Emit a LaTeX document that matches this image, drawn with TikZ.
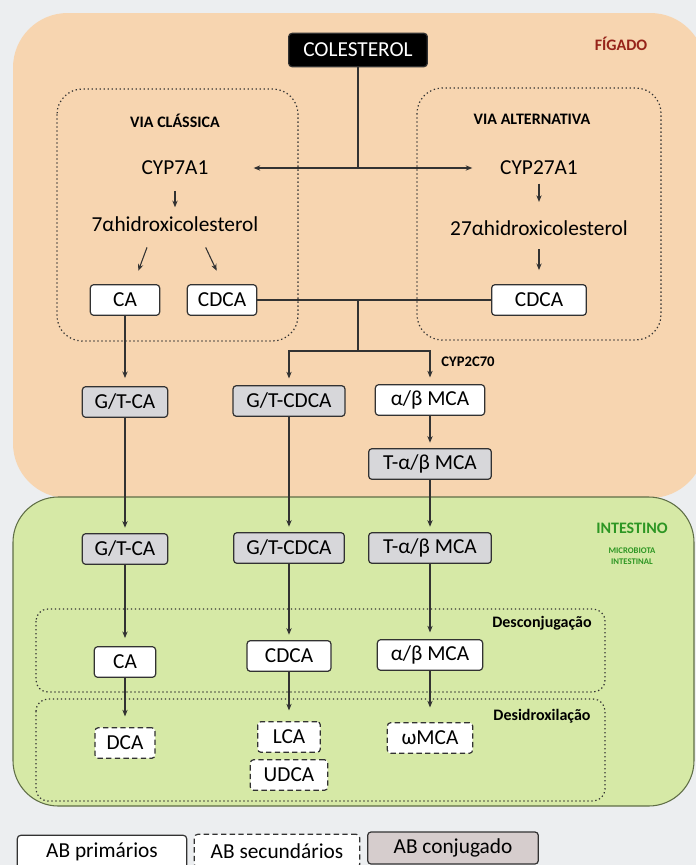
\documentclass[tikz,border=0pt]{standalone}
\usepackage{fontspec}
\setmainfont{Carlito}
\usetikzlibrary{arrows.meta}

\definecolor{fundo}{RGB}{236,238,240}
\definecolor{figado}{RGB}{247,213,176}
\definecolor{intestino}{RGB}{214,233,166}
\definecolor{bordaverde}{RGB}{95,110,70}
\definecolor{cinzaconj}{RGB}{215,215,218}
\definecolor{cinzaleg}{RGB}{214,205,205}
\definecolor{traco}{RGB}{50,50,50}
\definecolor{vinho}{RGB}{150,35,25}
\definecolor{verde}{RGB}{45,150,35}

\tikzset{
  ab/.style={draw=traco, line width=0.9pt, rounded corners=2.5pt, fill=white,
    minimum height=23pt, inner sep=0.75pt, font=\fontsize{16}{19}\selectfont},
  abconj/.style={ab, fill=cinzaconj},
  absec/.style={ab, dash pattern=on 4pt off 2.5pt},
  texto/.style={inner sep=0.75pt, font=\fontsize{16}{19}\selectfont},
  rotulo/.style={inner sep=0.75pt, font=\bfseries\fontsize{12}{14}\selectfont},
  pontilhado/.style={draw=traco, line width=0.9pt, dash pattern=on 1pt off 2pt},
  linha/.style={draw=traco, line width=0.8pt},
  seta/.style={linha, -{Stealth[length=5pt,width=4pt]}},
}

\begin{document}
\begin{tikzpicture}[x=0.75pt,y=0.75pt,yscale=-1,xscale=1]
\useasboundingbox (0,0) rectangle (696,865);
\fill[fundo] (0,0) rectangle (696,865);

%Shape: Figado
\fill[figado, rounded corners=41pt] (13,13) rectangle (705,498);
%Shape: Intestino
\filldraw[fill=intestino, draw=bordaverde, line width=0.8pt, rounded corners=34pt] (13,497) rectangle (694,806);

%Shape: vias e etapas
\draw[pontilhado, rounded corners=19pt] (57,89) rectangle (298,341);
\draw[pontilhado, rounded corners=19pt] (417,88) rectangle (661,340);
\draw[pontilhado, rounded corners=9pt] (36,609) rectangle (605,692);
\draw[pontilhado, rounded corners=9pt] (36,699) rectangle (605,801);

% Text Node
\node[ab, fill=black, text=white, minimum width=104pt, minimum height=25pt] (col) at (358,50) {COLESTEROL};
\node[rotulo, text=vinho] (fig) at (621,44) {FÍGADO};
\node[rotulo] (vc) at (175,121) {VIA CLÁSSICA};
\node[rotulo] (va) at (532,119) {VIA ALTERNATIVA};
\node[texto] (cyp7) at (175,168) {CYP7A1};
\node[texto] (cyp27) at (539,168) {CYP27A1};
\node[texto] (h7) at (175,224) {7αhidroxicolesterol};
\node[texto] (h27) at (539,228) {27αhidroxicolesterol};
\node[ab, minimum width=52pt] (ca1) at (125,300) {CA};
\node[ab, minimum width=52pt] (cdca1) at (222,300) {CDCA};
\node[ab, minimum width=71pt] (cdca2) at (539,300) {CDCA};
\coordinate (j1) at (358,168);
\coordinate (j2) at (358,300);
\coordinate (j3) at (358,351);
\node[rotulo, font=\bfseries\fontsize{11}{13}\selectfont] (cyp2c) at (468,362) {CYP2C70};

% Text Node
\node[abconj, minimum width=64pt] (gtca1) at (125,402) {G/T-CA};
\node[abconj, minimum width=84pt] (gtcdca1) at (289,401) {G/T-CDCA};
\node[ab, minimum width=82pt] (mca1) at (430,400) {α/β MCA};
\node[abconj, minimum width=92pt] (tmca1) at (430,464) {T-α/β MCA};
\node[abconj, minimum width=64pt] (gtca2) at (125,549) {G/T-CA};
\node[abconj, minimum width=83pt] (gtcdca2) at (289,548) {G/T-CDCA};
\node[abconj, minimum width=92pt] (tmca2) at (430,548) {T-α/β MCA};
\node[rotulo, text=verde] (int) at (632,528) {INTESTINO};
\node[rotulo, text=verde, font=\bfseries\fontsize{6.5}{8.5}\selectfont, align=center] (mic) at (632,556) {MICROBIOTA\\INTESTINAL};

% Text Node
\node[rotulo] (desc) at (542,623) {Desconjugação};
\node[rotulo] (desid) at (542,716) {Desidroxilação};
\node[ab, minimum width=46pt] (ca2) at (125,662) {CA};
\node[ab, minimum width=63pt] (cdca3) at (289,656) {CDCA};
\node[ab, minimum width=79pt] (mca2) at (430,655) {α/β MCA};
\node[absec, minimum width=45pt] (dca) at (125,743) {DCA};
\node[absec, minimum width=47pt] (lca) at (289,737) {LCA};
\node[absec, minimum width=58pt] (udca) at (289,775) {UDCA};
\node[absec, minimum width=64pt] (omca) at (430,738) {ωMCA};

% legenda
\node[ab, minimum width=127pt, minimum height=25pt] (lp) at (102,852) {AB primários};
\node[absec, minimum width=124pt, minimum height=25pt] (ls) at (277,851) {AB secundários};
\node[ab, fill=cinzaleg, minimum width=128pt, minimum height=24pt] (lc) at (453,848) {AB conjugado};

%Straight Lines
\draw[linha] (col) -- (j1);
\draw[seta, shorten >=33pt] (j1) -- (cyp7);
\draw[seta, shorten >=20pt] (j1) -- (cyp27);
\draw[seta, shorten <=11pt, shorten >=6pt] (cyp7) -- (h7);
\draw[seta, shorten <=5.5pt, shorten >=13pt] (cyp27) -- (h27);
\draw[seta, shorten <=9.5pt, shorten >=10.5pt] (h27) -- (cdca2);
\draw[seta] ([xshift=-21pt,yshift=11pt]h7.south) -- ([xshift=10pt,yshift=-10pt]ca1.north);
\draw[seta] ([xshift=23pt,yshift=11pt]h7.south) -- ([xshift=-4pt,yshift=-10pt]cdca1.north);
\draw[linha] (cdca1) -- (cdca2);
\draw[linha] (j2) -- (j3);
\draw[seta, shorten >=5pt] (j3) -| (gtcdca1);
\draw[seta, shorten >=5pt] (j3) -| (mca1);
\draw[seta, shorten >=6pt] (ca1) -- (gtca1);
\draw[seta, shorten >=4pt] (mca1) -- (tmca1);
\draw[seta, shorten >=4pt] (gtca1) -- (gtca2);
\draw[seta, shorten >=4pt] (gtcdca1) -- (gtcdca2);
\draw[seta, shorten >=4pt] (tmca1) -- (tmca2);
\draw[seta, shorten >=6pt] (gtca2) -- (ca2);
\draw[seta, shorten >=4pt] (gtcdca2) -- (cdca3);
\draw[seta, shorten >=5pt] (tmca2) -- (mca2);
\draw[seta, shorten >=8pt] (ca2) -- (dca);
\draw[seta, shorten >=8pt] (cdca3) -- (lca);
\draw[seta, shorten >=11pt] (mca2) -- (omca);

\end{tikzpicture}
\end{document}
